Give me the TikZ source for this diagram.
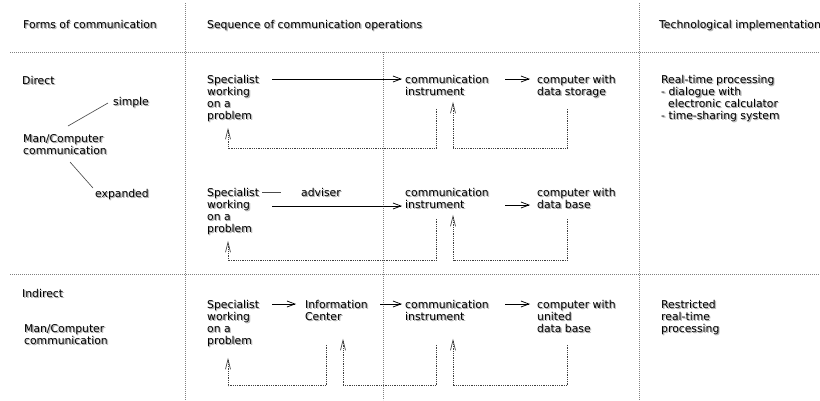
\documentclass[tikz,border=0pt]{standalone}
\usepackage{fontspec}
\setmainfont{DejaVu Sans}
\usetikzlibrary{arrows.meta}
\definecolor{shadowgray}{gray}{0.70}
\definecolor{gridgray}{gray}{0.50}
\definecolor{loopgray}{gray}{0.25}
\newcommand\tabtxt[1]{\begin{tabular}[t]{@{}l@{}}#1\end{tabular}}
% text with a soft drop shadow
\newcommand\tx[1]{\rlap{\kern1.4pt\raisebox{-1.6pt}{\color{shadowgray!60}\tabtxt{#1}}}\rlap{\kern0.9pt\raisebox{-1.1pt}{\color{shadowgray}\tabtxt{#1}}}\tabtxt{#1}}
\tikzset{
  txt/.style={inner sep=0pt, anchor=base west, font=\fontsize{10.8}{12}\selectfont},
  arr/.style={line width=0.75pt, -{Straight Barb[length=8pt,width=6pt]}},
  fb/.style={dash pattern=on 0.7pt off 1.1pt, line width=0.7pt, loopgray, -{Straight Barb[length=10pt,width=5pt]}},
  gridline/.style={dash pattern=on 0.8pt off 1.2pt, line width=0.7pt, gridgray},
  link/.style={line width=0.65pt, black!70}
}
\begin{document}
\begin{tikzpicture}[x=1pt,y=-1pt]
\useasboundingbox (0,0) rectangle (820,400);
\clip (0,0) rectangle (820,400);
\fill[white] (0,0) rectangle (820,400);

% table rules
\draw[gridline] (10,52) -- (820,52);
\draw[gridline] (10,274) -- (820,274);
\draw[gridline] (185,3) -- (185,400);
\draw[gridline] (639,3) -- (639,400);
\draw[gridline] (383,52) -- (383,400);

% column headings
\node[txt] (h1) at (23,28) {\tx{Forms of communication}};
\node[txt] (h2) at (207,28) {\tx{Sequence of communication operations}};
\node[txt] (h3) at (659,28) {\tx{Technological implementation}};

% forms of communication
\node[txt] (direct) at (22,84) {\tx{Direct}};
\node[txt] (simple) at (113,105) {\tx{simple}};
\node[txt] (mc1) at (23,142) {\tx{Man/Computer\\communication}};
\node[txt] (expanded) at (95,197) {\tx{expanded}};
\coordinate (ls0) at (68,126);
\coordinate (ls1) at (108,103);
\coordinate (le0) at (70,162);
\coordinate (le1) at (93,188);
\draw[link] (ls0) -- (ls1);
\draw[link] (le0) -- (le1);
\node[txt] (indirect) at (22,297) {\tx{Indirect}};
\node[txt] (mc2) at (24,332) {\tx{Man/Computer\\communication}};

% simple direct communication
\node[txt] (spec1) at (207,83) {\tx{Specialist\\working\\on a\\problem}};
\node[txt] (comm1) at (405,83) {\tx{communication\\instrument}};
\node[txt] (comp1) at (537,83) {\tx{computer with\\data storage}};
\draw[arr] ([xshift=65pt,yshift=4pt]spec1.base west) -- ([xshift=-3pt,yshift=4pt]comm1.base west);
\draw[arr] ([xshift=100pt,yshift=4pt]comm1.base west) -- ([xshift=-7pt,yshift=4pt]comp1.base west);
\draw[fb] ([xshift=31pt,yshift=-8.4pt]comm1.south west) -- ++(0,40) -| ([xshift=21pt,yshift=-3.4pt]spec1.south west);
\draw[fb] ([xshift=30pt,yshift=-8.4pt]comp1.south west) -- ++(0,40) -| ([xshift=48pt,yshift=-1.4pt]comm1.south west);

% expanded direct communication
\node[txt] (spec2) at (207,196) {\tx{Specialist\\working\\on a\\problem}};
\node[txt] (adv) at (301,196) {\tx{adviser}};
\node[txt] (comm2) at (405,196) {\tx{communication\\instrument}};
\node[txt] (comp2) at (537,196) {\tx{computer with\\data base}};
\draw[link] ([xshift=55pt,yshift=4pt]spec2.base west) -- ([xshift=-20pt,yshift=4pt]adv.base west);
\draw[arr] ([xshift=65pt,yshift=-10pt]spec2.base west) -- ([xshift=-3pt,yshift=-10pt]comm2.base west);
\draw[arr] ([xshift=100pt,yshift=-9pt]comm2.base west) -- ([xshift=-7pt,yshift=-9pt]comp2.base west);
\draw[fb] ([xshift=31pt,yshift=-5.4pt]comm2.south west) -- ++(0,42) -| ([xshift=21pt,yshift=-3.4pt]spec2.south west);
\draw[fb] ([xshift=30pt,yshift=-5.4pt]comp2.south west) -- ++(0,42) -| ([xshift=48pt,yshift=-1.4pt]comm2.south west);

% indirect communication
\node[txt] (spec3) at (207,308) {\tx{Specialist\\working\\on a\\problem}};
\node[txt] (info) at (305,308) {\tx{Information\\Center}};
\node[txt] (comm3) at (405,308) {\tx{communication\\instrument}};
\node[txt] (comp3) at (537,308) {\tx{computer with\\united\\data base}};
\draw[arr] ([xshift=65pt,yshift=4pt]spec3.base west) -- ([xshift=-9pt,yshift=4pt]info.base west);
\draw[arr] ([xshift=75pt,yshift=4pt]info.base west) -- ([xshift=-3pt,yshift=4pt]comm3.base west);
\draw[arr] ([xshift=100pt,yshift=4pt]comm3.base west) -- ([xshift=-7pt,yshift=4pt]comp3.base west);
\draw[fb] ([xshift=21pt,yshift=-19.4pt]info.south west) -- ++(0,41) -| ([xshift=21pt,yshift=-8.4pt]spec3.south west);
\draw[fb] ([xshift=31pt,yshift=-19.4pt]comm3.south west) -- ++(0,41) -| ([xshift=38pt,yshift=-13.4pt]info.south west);
\draw[fb] ([xshift=30pt,yshift=-7.4pt]comp3.south west) -- ++(0,41) -| ([xshift=48pt,yshift=-13.4pt]comm3.south west);

% technological implementation
\node[txt] (rt) at (661,83) {\tx{Real-time processing\\- dialogue with\\\hspace*{7pt}electronic calculator\\- time-sharing system}};
\node[txt] (rrt) at (661,308) {\tx{Restricted\\real-time\\processing}};
\end{tikzpicture}
\end{document}
